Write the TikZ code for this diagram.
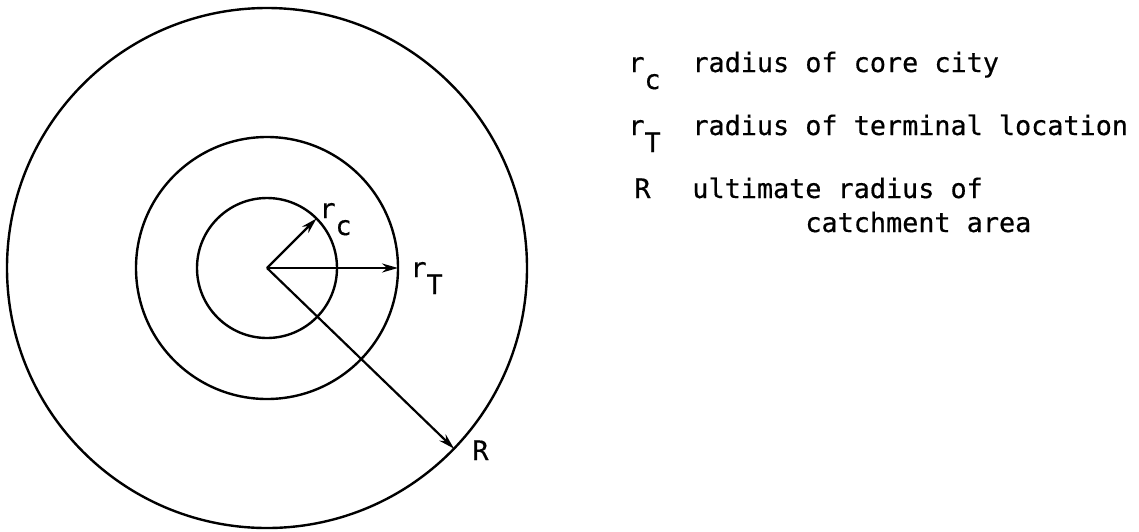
\documentclass[tikz,border=0pt]{standalone}
\usepackage{fontspec}
\setmonofont{DejaVu Sans Mono}[FakeBold=0.5]
\usetikzlibrary{arrows.meta}

\newcommand{\lowsub}[1]{\raisebox{-8.5pt}{#1}}

\begin{document}
\begin{tikzpicture}[
  x=0.5pt, y=-0.5pt,
  >={Stealth[length=8pt, width=4.5pt]},
  every node/.style={font=\fontsize{13.4}{16}\selectfont\ttfamily},
  ring/.style={circle, draw, line width=1.2pt, inner sep=0pt, outer sep=0pt},
  radial/.style={->, line width=1.1pt},
  txt/.style={anchor=base west, inner sep=0pt},
]

  \useasboundingbox (0,0) rectangle (1139,531);

  % the three circles
  \coordinate (centre) at (267,268);
  \node[ring, minimum size=260pt] (catch) at (centre) {};
  \node[ring, minimum size=131pt] (term) at (centre) {};
  \node[ring, minimum size=70pt] (core) at (centre) {};

  \draw[radial] (centre) -- (core.45);
  \draw[radial] (centre) -- (term.0);
  \draw[radial] (centre) -- (catch.-44);

  \node[txt] (rc) at (319,218) {r\lowsub{c}};
  \node[txt] (rt) at (410,277) {r\lowsub{T}};
  \node[txt] (rr) at (472,460) {R};

  % legend
  \node[txt] (symc) at (628,72) {r\lowsub{c}};
  \node[txt] (symt) at (628,135) {r\lowsub{T}};
  \node[txt] (symr) at (634,198) {R};
  \node[txt] (descc) at (692,72) {radius of core city};
  \node[txt] (desct) at (692,135) {radius of terminal location};
  \node[txt] (descr) at (692,198) {ultimate radius of};
  \node[txt] (descr2) at (805,232) {catchment area};

\end{tikzpicture}
\end{document}
